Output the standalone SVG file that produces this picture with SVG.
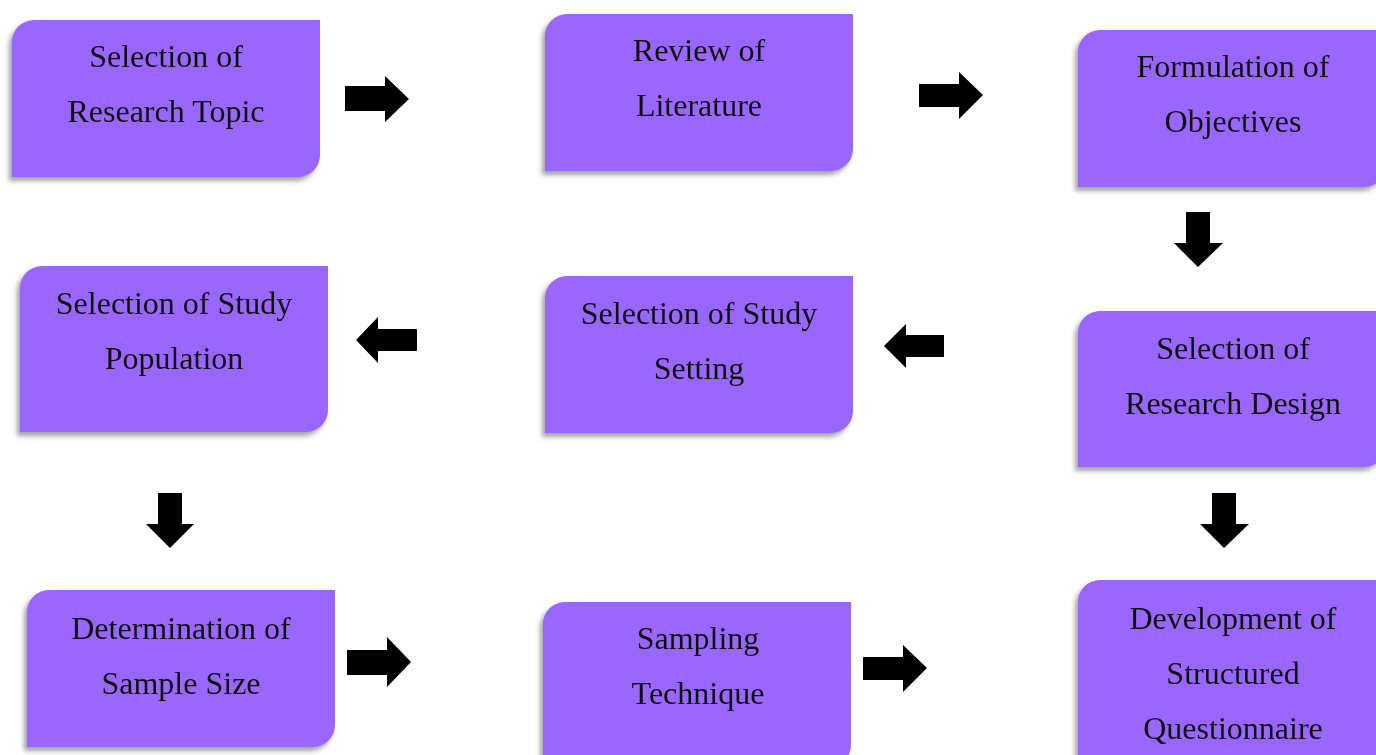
<svg xmlns="http://www.w3.org/2000/svg" width="1376" height="755" viewBox="0 0 1376 755">
<style>
.box{fill:#9966FF}
.t{font-family:"Liberation Serif","Times New Roman",serif;font-size:32px;fill:#111;text-anchor:middle}
.arr{fill:#000}
</style>
<defs>
<filter id="sh" x="-10%" y="-10%" width="120%" height="125%">
<feDropShadow dx="-3" dy="4" stdDeviation="2.5" flood-color="#555" flood-opacity="0.55"/>
</filter>
</defs>
<rect width="1376" height="755" fill="#fff"/>
<g id="n1" filter="url(#sh)"><path class="box" d="M34,20 H320 V155 A22,22 0 0 1 298,177 H12 V42 A22,22 0 0 1 34,20 Z"/>
<text class="t" x="166" y="67">Selection of</text><text class="t" x="166" y="122">Research Topic</text></g>
<g id="n2" filter="url(#sh)"><path class="box" d="M567,14 H853 V149 A22,22 0 0 1 831,171 H545 V36 A22,22 0 0 1 567,14 Z"/>
<text class="t" x="699" y="61">Review of</text><text class="t" x="699" y="116">Literature</text></g>
<g id="n3" filter="url(#sh)"><path class="box" d="M1100,30 H1386 V165 A22,22 0 0 1 1364,187 H1078 V52 A22,22 0 0 1 1100,30 Z"/>
<text class="t" x="1233" y="77">Formulation of</text><text class="t" x="1233" y="132">Objectives</text></g>
<g id="n4" filter="url(#sh)"><path class="box" d="M42,266 H328 V410 A22,22 0 0 1 306,432 H20 V288 A22,22 0 0 1 42,266 Z"/>
<text class="t" x="174" y="314">Selection of Study</text><text class="t" x="174" y="369">Population</text></g>
<g id="n5" filter="url(#sh)"><path class="box" d="M567,276 H853 V411 A22,22 0 0 1 831,433 H545 V298 A22,22 0 0 1 567,276 Z"/>
<text class="t" x="699" y="324">Selection of Study</text><text class="t" x="699" y="379">Setting</text></g>
<g id="n6" filter="url(#sh)"><path class="box" d="M1100,311 H1386 V445 A22,22 0 0 1 1364,467 H1078 V333 A22,22 0 0 1 1100,311 Z"/>
<text class="t" x="1233" y="359">Selection of</text><text class="t" x="1233" y="414">Research Design</text></g>
<g id="n7" filter="url(#sh)"><path class="box" d="M49,590 H335 V725 A22,22 0 0 1 313,747 H27 V612 A22,22 0 0 1 49,590 Z"/>
<text class="t" x="181" y="639">Determination of</text><text class="t" x="181" y="694">Sample Size</text></g>
<g id="n8" filter="url(#sh)"><path class="box" d="M565,602 H851 V745 A22,22 0 0 1 829,767 H543 V624 A22,22 0 0 1 565,602 Z"/>
<text class="t" x="698" y="649">Sampling</text><text class="t" x="698" y="704">Technique</text></g>
<g id="n9" filter="url(#sh)"><path class="box" d="M1100,580 H1386 V760 H1078 V602 A22,22 0 0 1 1100,580 Z"/>
<text class="t" x="1233" y="629">Development of</text><text class="t" x="1233" y="684">Structured</text><text class="t" x="1233" y="739">Questionnaire</text></g>
<g id="connectors">
<path class="arr" d="M345,86 H385 V76 L409,99 L385,122 V111 H345 Z"/>
<path class="arr" d="M919,84 H959 V72 L983,95 L959,119 V107 H919 Z"/>
<path class="arr" d="M347,650 H387 V637 L411,662 L387,687 V675 H347 Z"/>
<path class="arr" d="M863,657 H903 V645 L927,668 L903,692 V680 H863 Z"/>
<path class="arr" d="M417,329 H378 V317 L356,340 L378,363 V351 H417 Z"/>
<path class="arr" d="M944,335 H906 V324 L884,346 L906,368 V357 H944 Z"/>
<path class="arr" d="M1186,212 H1210 V243 H1223 L1198,267 L1174,243 H1186 Z"/>
<path class="arr" d="M1212,493 H1236 V524 H1249 L1224,548 L1200,524 H1212 Z"/>
<path class="arr" d="M158,493 H182 V524 H194 L170,548 L146,524 H158 Z"/>
</g>
</svg>
